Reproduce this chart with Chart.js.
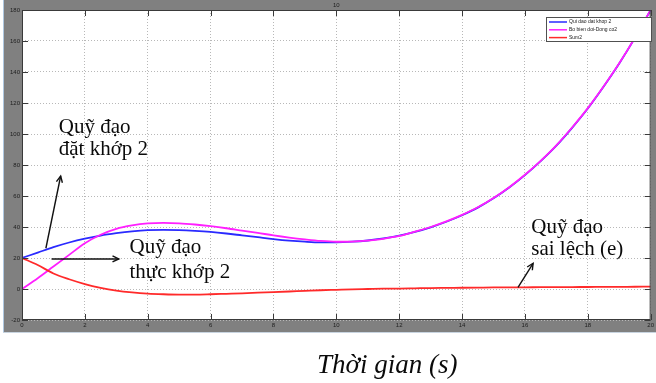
<!DOCTYPE html>
<html>
<head>
<meta charset="utf-8">
<script src="https://cdn.jsdelivr.net/npm/chart.js@4.4.0/dist/chart.umd.min.js"></script>
<style>
  html, body { margin: 0; padding: 0; background: #ffffff; }
  #wrap { position: relative; width: 656px; height: 383px; }
</style>
</head>
<body>
<div id="wrap"><canvas id="c" width="656" height="383"></canvas></div>
<script>
// ---- data ----
const times = [0,0.5,1,1.5,2,2.5,3,3.5,4,4.5,5,5.5,6,6.5,7,7.5,8,8.5,9,9.5,10,
               10.5,11,11.5,12,12.5,13,13.5,14,14.5,15,15.5,16,16.5,17,17.5,18,18.5,19,19.5,20];
const desired = [20,23.5,27,30,32.5,34.5,36,37.2,38,38.2,38,37.5,36.8,35.8,34.6,33.4,32.2,31.2,30.5,30.1,30.1,
                 30.5,31.3,32.6,34.4,36.8,39.8,43.4,47.6,52.5,58.5,65.5,73.5,82.5,92.5,104,116.5,130.5,145.5,162,180];
const actual = [0,7,14.5,22,29.5,35,38.8,41,42.3,42.7,42.4,41.6,40.5,39.2,37.7,36.2,34.6,33.2,32,31,30.5,
                30.6,31.2,32.4,34.2,37,40,43.6,47.8,52.7,58.7,65.7,73.7,82.7,92.7,104.2,116.7,130.7,145.7,162.1,180.1];
const errorSum = [20,15.5,10,6.3,3.2,0.8,-1,-2.2,-3,-3.4,-3.6,-3.6,-3.4,-3.1,-2.8,-2.4,-2,-1.6,-1.2,-0.8,-0.5,
                  -0.2,0,0.2,0.3,0.45,0.6,0.7,0.8,0.9,1,1.05,1.1,1.15,1.2,1.25,1.3,1.35,1.4,1.45,1.5];
const seriesNames = ["Qui dao dat khop 2", "Bo bien doi-Dong co2", "Sum2"];
const xTicks = [0,2,4,6,8,10,12,14,16,18,20];
const yTicks = [-20,0,20,40,60,80,100,120,140,160,180];
const titleText = "10";
const xLabel = "Thời gian (s)";

// annotations (text lines and arrows), anchored in data units
const notes = [
  { lines: ["Quỹ đạo", "đặt khớp 2"], t: 1.17, v: [100.6, 86.4], arrow: [[0.76, 26.3], [1.23, 72.9]] },
  { lines: ["Quỹ đạo", "thực khớp 2"], t: 3.42, v: [23.2, 7.1], arrow: [[0.94, 19.4], [3.08, 19.4]] },
  { lines: ["Quỹ đạo", "sai lệch (e)"], t: 16.2, v: [36.1, 21.9], arrow: [[15.78, 1.1], [16.26, 16.6]] }
];

const colors = ['#2a2aff', '#ff1fff', '#ff2a2a'];
const toXY = arr => times.map((t, i) => ({ x: t, y: arr[i] }));

function arrow(ctx, x1, y1, x2, y2) {
  ctx.beginPath(); ctx.moveTo(x1, y1); ctx.lineTo(x2, y2); ctx.stroke();
  const a = Math.atan2(y2 - y1, x2 - x1), L = 7, w = 0.45;
  ctx.beginPath();
  ctx.moveTo(x2 - L * Math.cos(a - w), y2 - L * Math.sin(a - w));
  ctx.lineTo(x2, y2);
  ctx.lineTo(x2 - L * Math.cos(a + w), y2 - L * Math.sin(a + w));
  ctx.stroke();
}

const deco = {
  id: 'deco',
  beforeDraw(chart) {
    const ctx = chart.ctx, ca = chart.chartArea;
    ctx.save();
    ctx.fillStyle = '#ffffff'; ctx.fillRect(0, 0, chart.width, chart.height);
    ctx.fillStyle = '#808080'; ctx.fillRect(4, 0, chart.width - 4, ca.bottom + 12);
    ctx.fillStyle = '#b0c8e0'; ctx.fillRect(3, 0, 1, ca.bottom + 13);
    ctx.fillStyle = '#c8d4e0'; ctx.fillRect(3, ca.bottom + 12, chart.width - 3, 1);
    ctx.fillStyle = '#ffffff'; ctx.fillRect(ca.left, ca.top, ca.right - ca.left, ca.bottom - ca.top);
    ctx.restore();
  },
  afterDraw(chart) {
    const ctx = chart.ctx, ca = chart.chartArea;
    const xs = chart.scales.x, ys = chart.scales.y;
    ctx.save();
    // axes box and inner tick marks
    ctx.strokeStyle = '#3a3a3a'; ctx.lineWidth = 1;
    ctx.strokeRect(ca.left + 0.5, ca.top + 0.5, ca.right - ca.left - 1, ca.bottom - ca.top - 1);
    ctx.beginPath();
    xTicks.forEach(v => {
      const px = Math.round(xs.getPixelForValue(v)) + 0.5;
      ctx.moveTo(px, ca.bottom); ctx.lineTo(px, ca.bottom - 6);
      ctx.moveTo(px, ca.top); ctx.lineTo(px, ca.top + 6);
    });
    yTicks.forEach(v => {
      const py = Math.round(ys.getPixelForValue(v)) + 0.5;
      ctx.moveTo(ca.left, py); ctx.lineTo(ca.left + 6, py);
      ctx.moveTo(ca.right, py); ctx.lineTo(ca.right - 6, py);
    });
    ctx.stroke();
    // title
    ctx.fillStyle = '#202020'; ctx.font = '6px "Liberation Sans"';
    ctx.textAlign = 'center'; ctx.textBaseline = 'middle';
    ctx.fillText(titleText, (ca.left + ca.right) / 2, 5);
    // legend
    const lx = 546, ly = 17, lw = 106, lh = 25;
    ctx.fillStyle = '#ffffff'; ctx.fillRect(lx, ly, lw, lh);
    ctx.strokeStyle = '#505050'; ctx.strokeRect(lx + 0.5, ly + 0.5, lw - 1, lh - 1);
    ctx.font = '5px "Liberation Sans"'; ctx.textAlign = 'left';
    seriesNames.forEach((n, i) => {
      const yy = ly + 5 + i * 7.8;
      ctx.strokeStyle = colors[i]; ctx.lineWidth = 1.5;
      ctx.beginPath(); ctx.moveTo(lx + 3, yy); ctx.lineTo(lx + 21, yy); ctx.stroke();
      ctx.fillStyle = '#202020'; ctx.fillText(n, lx + 23, yy);
    });
    // annotations
    ctx.strokeStyle = '#111111'; ctx.lineWidth = 1.4; ctx.fillStyle = '#0a0a0a';
    ctx.font = '21px "Liberation Serif"'; ctx.textBaseline = 'alphabetic';
    notes.forEach(n => {
      n.lines.forEach((s, i) => ctx.fillText(s, xs.getPixelForValue(n.t), ys.getPixelForValue(n.v[i])));
      arrow(ctx, xs.getPixelForValue(n.arrow[0][0]), ys.getPixelForValue(n.arrow[0][1]),
                 xs.getPixelForValue(n.arrow[1][0]), ys.getPixelForValue(n.arrow[1][1]));
    });
    // x label
    ctx.font = 'italic 27px "Liberation Serif"'; ctx.textAlign = 'left';
    ctx.fillText(xLabel, 317, 373);
    ctx.restore();
  }
};

new Chart(document.getElementById('c'), {
  type: 'line',
  data: {
    datasets: [
      { label: seriesNames[0], data: toXY(desired), borderColor: colors[0], order: 3 },
      { label: seriesNames[1], data: toXY(actual), borderColor: colors[1], order: 2 },
      { label: seriesNames[2], data: toXY(errorSum), borderColor: colors[2], order: 1 }
    ]
  },
  options: {
    responsive: false, animation: false, devicePixelRatio: 1,
    layout: { padding: { top: 10, right: 3, left: 0, bottom: 0 } },
    elements: {
      point: { radius: 0 },
      line: { borderWidth: 1.8, tension: 0.4, cubicInterpolationMode: 'monotone', fill: false }
    },
    plugins: { legend: { display: false }, tooltip: { enabled: false }, title: { display: false } },
    scales: {
      x: {
        type: 'linear', min: 0, max: 20,
        afterBuildTicks: s => { s.ticks = xTicks.map(v => ({ value: v })); },
        afterFit: s => { s.height = 63; },
        ticks: { font: { size: 6, family: 'Liberation Sans' }, color: '#202020', padding: 2, maxRotation: 0 },
        grid: { color: '#b8b8b8', drawTicks: false, lineWidth: 1 },
        border: { display: false, dash: [1, 2] }
      },
      y: {
        min: -20, max: 180,
        afterBuildTicks: s => { s.ticks = yTicks.map(v => ({ value: v })); },
        afterFit: s => { s.width = 22; },
        ticks: { font: { size: 6, family: 'Liberation Sans' }, color: '#202020', padding: 2 },
        grid: { color: '#b8b8b8', drawTicks: false, lineWidth: 1 },
        border: { display: false, dash: [1, 2] }
      }
    }
  },
  plugins: [deco]
});
</script>
</body>
</html>
